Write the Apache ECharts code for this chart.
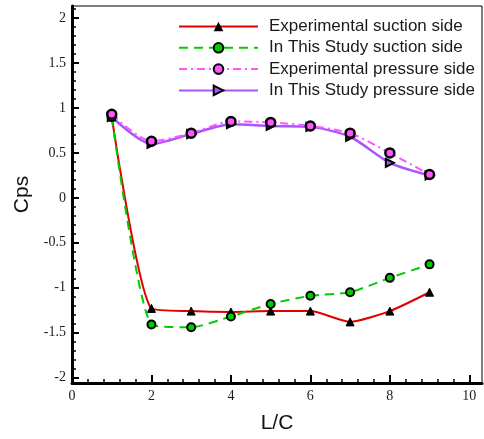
<!DOCTYPE html>
<html><head><meta charset="utf-8">
<script src="https://cdn.jsdelivr.net/npm/echarts@6/dist/echarts.min.js"></script>
<style>html,body{margin:0;padding:0;background:#fff}#c{width:484px;height:439px}</style>
</head><body><div id="c"></div>
<script>
const xs = [1, 2, 3, 4, 5, 6, 7, 8, 9];
const expSuction = [0.90, -1.23, -1.26, -1.27, -1.26, -1.26, -1.38, -1.26, -1.05];
const studySuction = [0.90, -1.41, -1.44, -1.32, -1.18, -1.09, -1.05, -0.89, -0.74];
const expPressure = [0.93, 0.63, 0.72, 0.85, 0.84, 0.80, 0.72, 0.50, 0.26];
const studyPressure = [0.90, 0.60, 0.71, 0.82, 0.80, 0.79, 0.68, 0.39, 0.25];
const names = ['Experimental suction side', 'In This Study suction side', 'Experimental pressure side', 'In This Study pressure side'];
const yMajor = [-2, -1.5, -1, -0.5, 0, 0.5, 1, 1.5, 2];
const xMajor = [0, 2, 4, 6, 8, 10];

const pair = arr => xs.map((x, i) => [x, arr[i]]);
const yMinor = []; for (let i = -20; i <= 21; i++) yMinor.push(+(i / 10).toFixed(1));
const xMinor = []; for (let i = 0; i <= 25; i++) xMinor.push(+(i * 0.4).toFixed(1));

const chart = echarts.init(document.getElementById('c'), null, {renderer: 'canvas'});
const labelFont = {fontFamily: 'Liberation Serif', fontSize: 14, color: '#1a1a1a'};
chart.setOption({
  animation: false,
  grid: {left: 72, right: 2, top: 6, bottom: 46, show: true, borderColor: '#000', borderWidth: 1},
  legend: {
    orient: 'vertical', left: 173, top: 13, itemWidth: 79, itemHeight: 12, itemGap: 4.3,
    textStyle: {fontFamily: 'Liberation Sans', fontSize: 17, color: '#1a1a1a', padding: [0, 0, 0, 6]},
    data: names
  },
  xAxis: [{
    type: 'value', min: 0, max: 10.32,
    name: 'L/C', nameLocation: 'middle', nameGap: 30,
    nameTextStyle: {fontFamily: 'Liberation Sans', fontSize: 21, color: '#111'},
    axisLine: {onZero: false, lineStyle: {color: '#000', width: 3}},
    axisTick: {inside: true, length: 8, customValues: xMajor, lineStyle: {color: '#000', width: 2}},
    axisLabel: Object.assign({customValues: xMajor, margin: 6}, labelFont),
    splitLine: {show: false}
  }, {
    type: 'value', min: 0, max: 10.32, position: 'bottom',
    axisLine: {show: false, onZero: false},
    axisTick: {inside: true, length: 4, customValues: xMinor, lineStyle: {color: '#000', width: 1.5}},
    axisLabel: {show: false}, splitLine: {show: false}
  }],
  yAxis: [{
    type: 'value', min: -2.06, max: 2.135,
    name: 'Cps', nameLocation: 'middle', nameGap: 38, nameRotate: 90,
    nameTextStyle: {fontFamily: 'Liberation Sans', fontSize: 21, color: '#111'},
    axisLine: {onZero: false, lineStyle: {color: '#000', width: 3}},
    axisTick: {inside: true, length: 7, customValues: yMajor, lineStyle: {color: '#000', width: 2}},
    axisLabel: Object.assign({customValues: yMajor, margin: 6}, labelFont),
    splitLine: {show: false}
  }, {
    type: 'value', min: -2.06, max: 2.135, position: 'left',
    axisLine: {show: false, onZero: false},
    axisTick: {inside: true, length: 4, customValues: yMinor, lineStyle: {color: '#000', width: 1.5}},
    axisLabel: {show: false}, splitLine: {show: false}
  }],
  series: [
    {name: names[0], type: 'line', data: pair(expSuction), smooth: 0.2,
     lineStyle: {color: '#e00000', width: 2}, itemStyle: {color: '#000', borderColor: '#000'},
     symbol: 'triangle', symbolSize: 8, z: 3},
    {name: names[1], type: 'line', data: pair(studySuction), smooth: 0.2,
     lineStyle: {color: '#00cc00', width: 2, type: [9, 6]}, itemStyle: {color: '#00cc00', borderColor: '#000', borderWidth: 2},
     symbol: 'circle', symbolSize: 8, z: 4},
    {name: names[2], type: 'line', data: pair(expPressure), smooth: 0.25,
     lineStyle: {color: '#ff55ff', width: 2, type: [8, 4, 2, 4]}, itemStyle: {color: '#ff55ff', borderColor: '#000', borderWidth: 2.5},
     symbol: 'circle', symbolSize: 9, z: 4},
    {name: names[3], type: 'line', data: pair(studyPressure), smooth: 0.25,
     lineStyle: {color: '#aa55ff', width: 2.5}, itemStyle: {color: '#aa55ff', borderColor: '#000', borderWidth: 2},
     symbol: 'triangle', symbolRotate: -90, symbolSize: 8, z: 3}
  ]
});
</script></body></html>
